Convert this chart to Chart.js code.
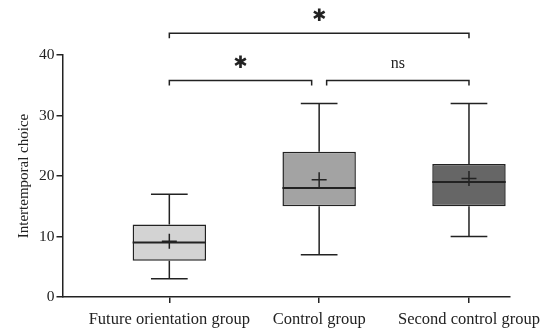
<!DOCTYPE html>
<html>
<head>
<meta charset="utf-8">
<script src="https://cdn.jsdelivr.net/npm/chart.js@4.4.1/dist/chart.umd.min.js"></script>
<style>
  html, body { margin: 0; padding: 0; background: #fff; }
  #wrap { width: 549px; height: 329px; }
</style>
</head>
<body>
<div id="wrap"><canvas id="myChart"></canvas></div>
<script>
// box plot values
var categories = ['Future orientation group', 'Control group', 'Second control group'];
var whiskerLow = [3, 7, 10];
var q1 = [6, 15, 15];
var median = [9, 18, 19];
var q3 = [12, 24, 22];
var whiskerHigh = [17, 32, 32];
var means = [9.2, 19.4, 19.6];
var yTicks = [0, 10, 20, 30, 40];

// significance brackets (x in group index, y in data units)
var bracketFrom = [1, 1, 2.05];
var bracketTo = [3, 1.95, 3];
var bracketLevel = [43.6, 35.8, 35.8];
var bracketLabel = ['*', '*', 'ns'];

var boxColors = ['#d3d3d3', '#a3a3a3', '#666666'];
var ink = '#222';
var serif = '"Liberation Serif", "Times New Roman", serif';

var boxExtras = {
  id: 'boxExtras',
  afterDatasetsDraw: function(chart) {
    var ctx = chart.ctx, xs = chart.scales.x, ys = chart.scales.y;
    var bars = chart.getDatasetMeta(0).data;
    ctx.save();
    ctx.strokeStyle = ink;
    for (var i = 0; i < categories.length; i++) {
      var x = xs.getPixelForValue(i + 1);
      var half = bars[i].width / 2;
      var cap = half / 2;
      ctx.lineWidth = 1.5;
      ctx.beginPath();
      ctx.moveTo(x, ys.getPixelForValue(whiskerLow[i]));
      ctx.lineTo(x, ys.getPixelForValue(q1[i]));
      ctx.moveTo(x, ys.getPixelForValue(q3[i]));
      ctx.lineTo(x, ys.getPixelForValue(whiskerHigh[i]));
      ctx.moveTo(x - cap, ys.getPixelForValue(whiskerLow[i]));
      ctx.lineTo(x + cap, ys.getPixelForValue(whiskerLow[i]));
      ctx.moveTo(x - cap, ys.getPixelForValue(whiskerHigh[i]));
      ctx.lineTo(x + cap, ys.getPixelForValue(whiskerHigh[i]));
      ctx.stroke();
      ctx.lineWidth = 2;
      ctx.beginPath();
      ctx.moveTo(x - half, ys.getPixelForValue(median[i]));
      ctx.lineTo(x + half, ys.getPixelForValue(median[i]));
      ctx.stroke();
    }
    ctx.restore();
  },
  afterDraw: function(chart) {
    var ctx = chart.ctx, xs = chart.scales.x, ys = chart.scales.y;
    ctx.save();
    ctx.strokeStyle = ink;
    ctx.fillStyle = ink;
    ctx.lineWidth = 1.5;
    ctx.textAlign = 'center';
    for (var b = 0; b < bracketLabel.length; b++) {
      var x0 = xs.getPixelForValue(bracketFrom[b]);
      var x1 = xs.getPixelForValue(bracketTo[b]);
      var y = ys.getPixelForValue(bracketLevel[b]);
      ctx.beginPath();
      ctx.moveTo(x0, y + 5);
      ctx.lineTo(x0, y);
      ctx.lineTo(x1, y);
      ctx.lineTo(x1, y + 5);
      ctx.stroke();
      if (bracketLabel[b] === '*') {
        ctx.font = 'bold 17px "DejaVu Sans", sans-serif';
        ctx.textBaseline = 'middle';
        ctx.fillText('\u2731', (x0 + x1) / 2, y - 17);
      } else {
        ctx.font = '16px ' + serif;
        ctx.textBaseline = 'alphabetic';
        ctx.fillText(bracketLabel[b], (x0 + x1) / 2, y - 12);
      }
    }
    ctx.restore();
  }
};

var context = document.getElementById('myChart');
var chart = new Chart(context, {
  data: {
    datasets: [{
      type: 'bar',
      data: categories.map(function(c, i) { return { x: i + 1, y: [q1[i], q3[i]] }; }),
      backgroundColor: boxColors,
      borderColor: ink,
      borderWidth: 1.5,
      borderSkipped: false,
      barPercentage: 0.49,
      categoryPercentage: 1.0,
      order: 2
    }, {
      type: 'scatter',
      data: categories.map(function(c, i) { return { x: i + 1, y: means[i] }; }),
      pointStyle: 'cross',
      pointRadius: 7.5,
      pointHoverRadius: 7.5,
      borderColor: ink,
      borderWidth: 1.5,
      order: 1
    }]
  },
  options: {
    responsive: true,
    maintainAspectRatio: false,
    animation: false,
    events: [],
    layout: { padding: { top: 55, right: 11, left: 15, bottom: 0 } },
    plugins: { legend: { display: false }, tooltip: { enabled: false } },
    scales: {
      x: {
        type: 'linear',
        min: 0.287,
        max: 3.27,
        offset: false,
        afterBuildTicks: function(scale) {
          scale.ticks = categories.map(function(c, i) { return { value: i + 1 }; });
        },
        afterFit: function(scale) {
          scale.height = 32;
        },
        ticks: {
          autoSkip: false,
          maxRotation: 0,
          padding: 8,
          color: ink,
          font: { family: serif, size: 16.5, lineHeight: 1.0 },
          callback: function(v) { return categories[v - 1]; }
        },
        grid: { offset: false, drawOnChartArea: false, drawTicks: true, tickLength: 6, color: ink, lineWidth: 1.5 },
        border: { display: true, color: ink, width: 1.5 }
      },
      y: {
        min: 0,
        max: 40,
        afterBuildTicks: function(scale) {
          scale.ticks = yTicks.map(function(v) { return { value: v }; });
        },
        ticks: {
          padding: 2,
          color: ink,
          font: { family: serif, size: 15.5 }
        },
        title: {
          display: true,
          text: 'Intertemporal choice',
          color: ink,
          padding: { top: 0, bottom: 4 },
          font: { family: serif, size: 15 }
        },
        grid: { drawOnChartArea: false, drawTicks: true, tickLength: 6, color: ink, lineWidth: 1.5 },
        border: { display: true, color: ink, width: 1.5 }
      }
    }
  },
  plugins: [boxExtras]
});
</script>
</body>
</html>
